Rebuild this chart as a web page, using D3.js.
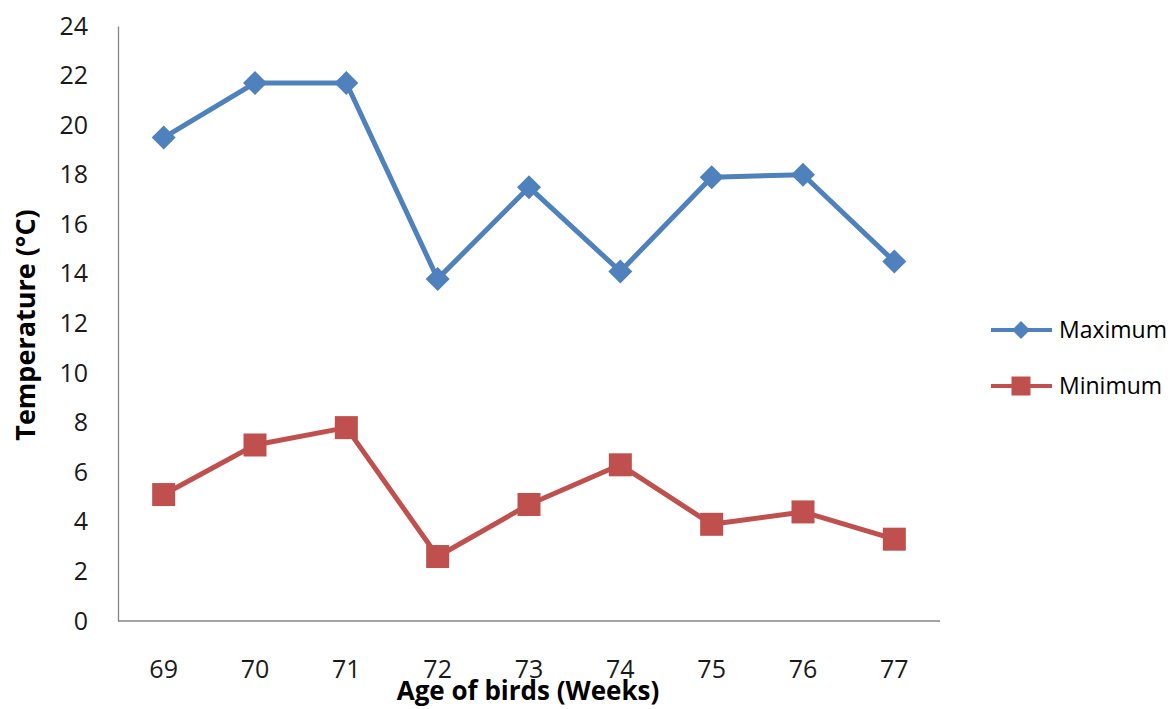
<!DOCTYPE html>
<html><head><meta charset="utf-8">
<script src="https://cdn.jsdelivr.net/npm/d3@7"></script>
<style>body{margin:0;background:#fff}</style>
</head><body>
<svg id="c" width="1172" height="709"></svg>
<script>
const weeks = ["69","70","71","72","73","74","75","76","77"];
const maximum = [19.5, 21.7, 21.7, 13.8, 17.5, 14.1, 17.9, 18.0, 14.5];
const minimum = [5.1, 7.1, 7.8, 2.6, 4.7, 6.3, 3.9, 4.4, 3.3];
const yTicks = [0,2,4,6,8,10,12,14,16,18,20,22,24];
const seriesNames = ["Maximum","Minimum"];
const colors = ["#4F81BD","#C0504D"];

const svg = d3.select("#c");
const font = "'Open Sans', 'Noto Sans', sans-serif";
const L = 118, R = 940, T = 26, B = 621;
const x = d3.scaleBand().domain(weeks).range([L, R]);
const y = d3.scaleLinear().domain([0, 24]).range([B, T]);

// axes
const ya = svg.append("g").attr("transform", `translate(${L},0)`)
  .call(d3.axisLeft(y).tickValues(yTicks).tickSize(0).tickPadding(30));
ya.select(".domain").attr("stroke", "#868686").attr("stroke-width", 1.3);
ya.selectAll("text").attr("font-family", font).attr("font-size", 25).attr("fill", "#1a1a1a");

const xa = svg.append("g").attr("transform", `translate(0,${B})`)
  .call(d3.axisBottom(x).tickSize(0).tickPadding(39));
xa.select(".domain").attr("stroke", "#868686").attr("stroke-width", 1.3).attr("d", `M${L},0H${R}`);
xa.selectAll("text").attr("font-family", font).attr("font-size", 25).attr("fill", "#1a1a1a");

// titles
svg.append("text").attr("x", 528).attr("y", 700).attr("text-anchor", "middle")
  .attr("font-family", font).attr("font-weight", "bold").attr("font-size", 26).attr("fill", "#000")
  .text("Age of birds (Weeks)");
svg.append("text").attr("transform", "translate(35,325) rotate(-90)").attr("text-anchor", "middle")
  .attr("font-family", font).attr("font-weight", "bold").attr("font-size", 27).attr("fill", "#000")
  .text("Temperature (°C)");

const line = d3.line().x((d, i) => x(weeks[i]) + x.bandwidth() / 2).y(d => y(d));
const data = [maximum, minimum];
const diamond = s => `M0,${-s}L${s},0L0,${s}L${-s},0Z`;

data.forEach((vals, k) => {
  svg.append("path").attr("d", line(vals)).attr("fill", "none")
    .attr("stroke", colors[k]).attr("stroke-width", 5).attr("stroke-linejoin", "round");
  const g = svg.append("g");
  vals.forEach((v, i) => {
    const cx = x(weeks[i]) + x.bandwidth() / 2, cy = y(v);
    if (k === 0) {
      g.append("path").attr("d", diamond(12)).attr("transform", `translate(${cx},${cy})`).attr("fill", colors[k]);
    } else {
      g.append("rect").attr("x", cx - 11.5).attr("y", cy - 11.5).attr("width", 23).attr("height", 23).attr("fill", colors[k]);
    }
  });
});

// legend
seriesNames.forEach((name, k) => {
  const ly = 330 + k * 56;
  const g = svg.append("g");
  g.append("line").attr("x1", 991).attr("x2", 1052).attr("y1", ly).attr("y2", ly)
    .attr("stroke", colors[k]).attr("stroke-width", 4);
  if (k === 0) g.append("path").attr("d", diamond(9)).attr("transform", `translate(1021,${ly})`).attr("fill", colors[k]);
  else g.append("rect").attr("x", 1011.5).attr("y", ly - 9.5).attr("width", 19).attr("height", 19).attr("fill", colors[k]);
  g.append("text").attr("x", 1059).attr("y", ly + 8).attr("font-family", font).attr("font-size", 23)
    .attr("fill", "#000").text(name);
});
</script>
</body></html>
